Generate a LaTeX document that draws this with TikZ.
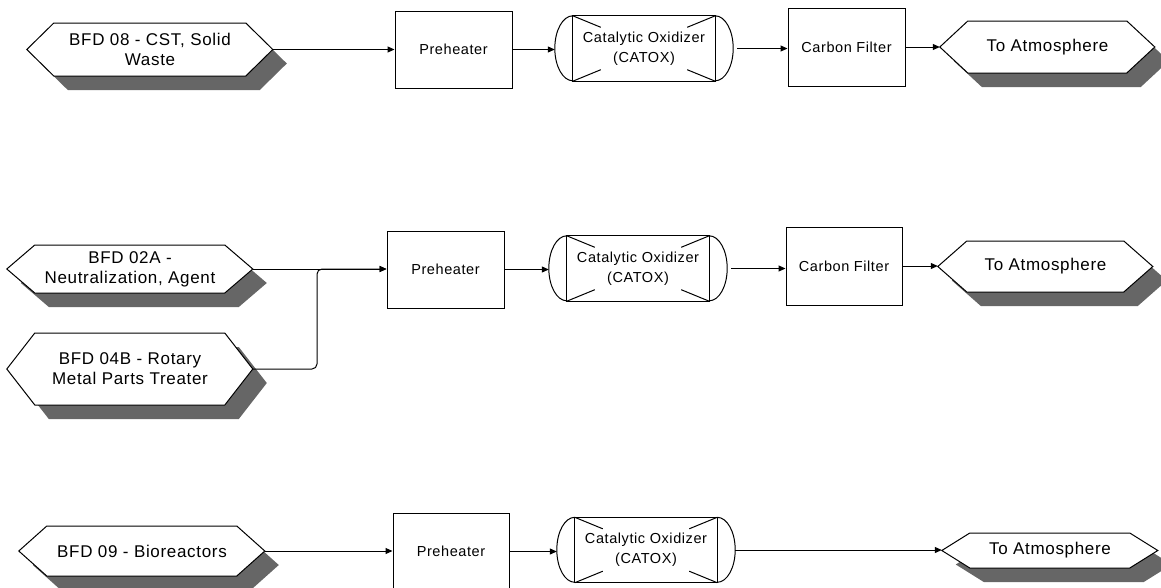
\documentclass[tikz,border=0pt]{standalone}
\usepackage{fontspec}
\setmainfont{Liberation Sans}[LetterSpace=4]
\usetikzlibrary{arrows.meta,calc,backgrounds}
\definecolor{flowShadow}{RGB}{102,102,102}
\definecolor{flowInk}{RGB}{0,0,0}

\begin{document}
\begin{tikzpicture}[x=1pt, y=-1pt,
  unitbox/.style={rectangle, draw=flowInk, line width=1pt, fill=white,
                  minimum width=117pt, minimum height=77pt, inner sep=0pt,
                  align=center, font=\fontsize{14.5}{20}\selectfont},
  hexnode/.style={rectangle, inner sep=0pt, align=center,
                  font=\fontsize{17}{20}\selectfont},
  catnode/.style={rectangle, inner sep=0pt, minimum width=178pt, minimum height=65pt,
                  align=center, font=\fontsize{14.5}{20}\selectfont},
  vessel/.style={draw=flowInk, line width=1pt},
  flow/.style={-{Triangle[length=7pt,width=6pt]}, draw=flowInk, line width=1pt},
]

\def\shd{14}   % drop shadow offset of the stream tags
\def\capw{18}  % width of the rounded vessel heads

% ─── helper macro: stream tag (hexagon with shadow) ─────────────
% #1=name, #2=x, #3=y, #4=width, #5=height, #6=pointer depth, #7=text
\newcommand{\streamhex}[7]{%
  \node[hexnode, minimum width=#4pt, minimum height=#5pt] (#1) at (#2,#3) {#7};
  \begin{pgfonlayer}{background}
    % shadow
    \fill[flowShadow] (#1.west) ++(\shd,\shd) -- ++(#6,{-#5/2}) -- ++({#4-2*#6},0)
         -- ++(#6,{#5/2}) -- ++({-#6},{#5/2}) -- ++({-(#4-2*#6)},0) -- cycle;
    % tag outline
    \filldraw[fill=white, draw=flowInk, line width=1pt] (#1.west) -- ++(#6,{-#5/2})
         -- ++({#4-2*#6},0) -- ++(#6,{#5/2}) -- ++({-#6},{#5/2})
         -- ++({-(#4-2*#6)},0) -- cycle;
  \end{pgfonlayer}
}

% ─── helper macro: catalytic oxidizer vessel ────────────────────
% #1=name, #2=x, #3=y
\newcommand{\catox}[3]{%
  \node[catnode] (#1) at (#2,#3) {Catalytic Oxidizer\\(CATOX)};
  \draw[vessel] ($(#1.north west)+(\capw,0)$) rectangle ($(#1.south east)+(-\capw,0)$);
  \draw[vessel] ($(#1.north west)+(\capw,0)$)
       arc[start angle=90, end angle=270, x radius=\capw pt, y radius=32.5pt];
  \draw[vessel] ($(#1.north east)+(-\capw,0)$)
       arc[start angle=90, end angle=-90, x radius=\capw pt, y radius=32.5pt];
  % catalyst bed marks
  \draw[vessel] ($(#1.north west)+(\capw,0)$) -- ++(28,11.5);
  \draw[vessel] ($(#1.south west)+(\capw,0)$) -- ++(28,-11.5);
  \draw[vessel] ($(#1.north east)+(-\capw,0)$) -- ++(-28,11.5);
  \draw[vessel] ($(#1.south east)+(-\capw,0)$) -- ++(-28,-11.5);
}

\useasboundingbox (0,0) rectangle (1161,587);

% ─── Train 1: BFD 08 ────────────────────────────────────────────
\streamhex{src1}{150}{49.5}{246}{53}{27}{BFD 08 - CST, Solid\\Waste}
\node[unitbox] (pre1) at (453.5,49.5) {Preheater};
\catox{cat1}{644}{48.5}
\node[unitbox, minimum height=78pt] (cf1) at (846.5,47) {Carbon Filter};
\streamhex{atm1}{1047.5}{47}{215}{52}{28}{To Atmosphere}

\draw[flow] (src1.east) -- (src1.east -| pre1.west);
\draw[flow] (pre1.east) -- (pre1.east -| cat1.west);
\draw[flow, shorten <=4pt] (cat1.east) -- (cat1.east -| cf1.west);
\draw[flow] (cf1.east) -- (cf1.east -| atm1.west);

% ─── Train 2: BFD 02A + BFD 04B ─────────────────────────────────
\streamhex{src2a}{130}{269}{246}{48}{28}{BFD 02A -\\Neutralization, Agent}
\streamhex{src2b}{130}{369}{246}{72}{28}{BFD 04B - Rotary\\Metal Parts Treater}
\node[unitbox] (pre2) at (445.5,269.5) {Preheater};
\catox{cat2}{638}{268.5}
\node[unitbox, minimum width=116pt, minimum height=78pt] (cf2) at (844,266) {Carbon Filter};
\streamhex{atm2}{1045.5}{266.5}{215}{51}{29}{To Atmosphere}
\coordinate (merge2) at (317,269);

\draw[flow] (src2a.east) -- (src2a.east -| pre2.west);
\draw[flow, rounded corners=5pt] (src2b.east) -| (merge2) -- (merge2 -| pre2.west);
\draw[flow] (pre2.east) -- (pre2.east -| cat2.west);
\draw[flow, shorten <=4pt] (cat2.east) -- (cat2.east -| cf2.west);
\draw[flow] (cf2.east) -- (cf2.east -| atm2.west);

% ─── Train 3: BFD 09 ────────────────────────────────────────────
\streamhex{src3}{142}{551}{246}{50}{28}{BFD 09 - Bioreactors}
\node[unitbox, minimum width=116pt] (pre3) at (451,551.5) {Preheater};
\catox{cat3}{646}{550}
\streamhex{atm3}{1050}{550.5}{216}{35}{28}{To Atmosphere}

\draw[flow] (src3.east) -- (src3.east -| pre3.west);
\draw[flow] (pre3.east) -- (pre3.east -| cat3.west);
\draw[flow] (cat3.east) -- (cat3.east -| atm3.west);

\end{tikzpicture}
\end{document}
